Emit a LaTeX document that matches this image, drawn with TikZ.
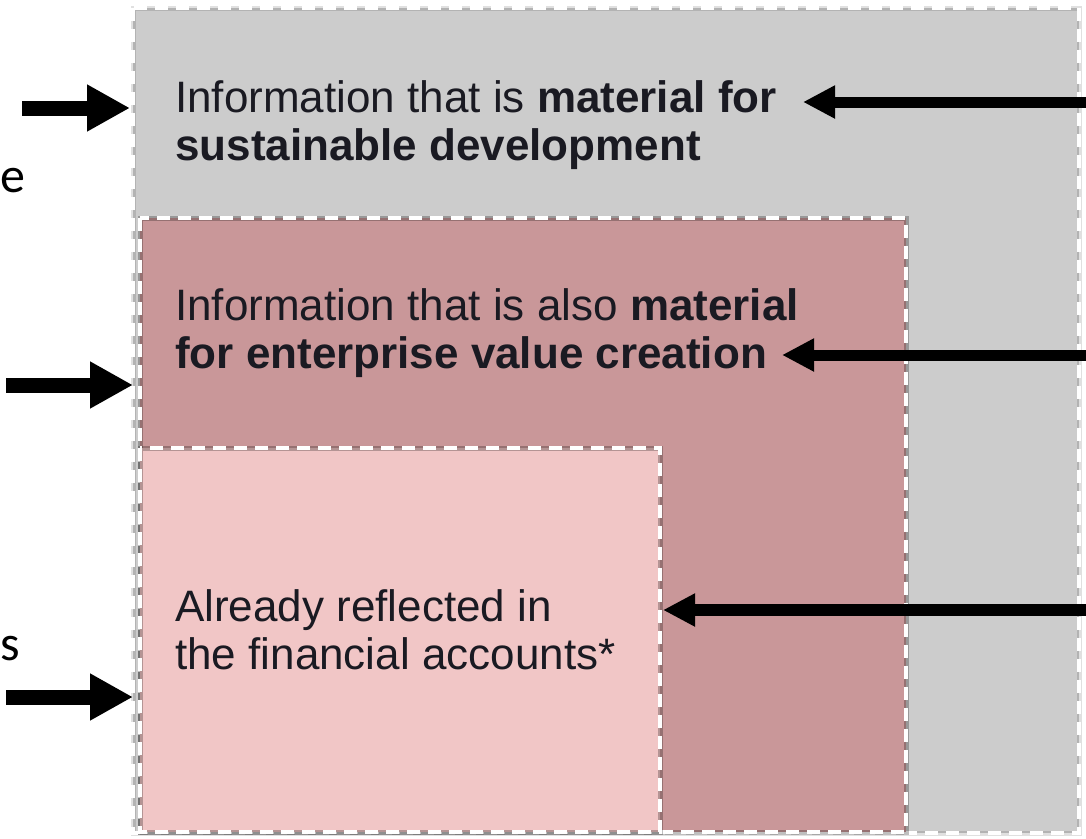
\documentclass[tikz,border=0pt]{standalone}
\usepackage{fontspec}
\setmainfont{Liberation Sans}
\newfontfamily\calib{Carlito}
\usetikzlibrary{arrows.meta}
\definecolor{boxgray}{HTML}{CCCCCC}
\definecolor{darkpink}{HTML}{C99799}
\definecolor{lightpink}{HTML}{F1C6C6}
\definecolor{txt}{HTML}{1A1A22}
\tikzset{
  region/.style={rectangle, inner sep=0pt, outer sep=0pt, anchor=north west},
  edgeshade/.style={draw=black, draw opacity=0.25, line width=5pt},
  edgedash/.style={draw=white, line width=4pt, dash pattern=on 13pt off 8pt},
  boxtext/.style={anchor=north west, inner sep=0pt, align=left, text=txt,
    font=\fontsize{44}{48}\selectfont},
  cuttext/.style={anchor=base west, inner sep=0pt, text=black,
    font=\calib\fontsize{50}{50}\selectfont},
  bigarrow/.style={-{Triangle[length=43pt,width=44pt]}, line width=15pt, black},
  thinarrow/.style={-{Triangle[length=32pt,width=31pt]}, line width=11pt, black},
}
\begin{document}
\begin{tikzpicture}[x=1pt,y=-1pt]
\useasboundingbox[fill=white] (0,0) rectangle (1086,838);

% regions
\node[region, fill=boxgray, minimum width=946pt, minimum height=825pt] (gray) at (133,8) {};
\draw[edgeshade, draw opacity=0.12] (gray.north west) rectangle (gray.south east);
\draw[edgedash] (gray.north west) rectangle (gray.south east);

\node[region, fill=darkpink, minimum width=766pt, minimum height=614pt] (dark) at (140,218) {};
\draw[edgeshade] (dark.north west) rectangle (dark.south east);
\draw[edgedash] (dark.north west) rectangle (dark.south east);

\node[region, fill=lightpink, minimum width=520pt, minimum height=384pt] (light) at (140,448) {};
\draw[edgeshade] (light.north west) rectangle (light.south east);
\draw[edgedash] (light.north west) rectangle (light.south east);

% texts
\node[boxtext] (t1) at (175,80) {Information that is \textbf{material for}\\\textbf{sustainable development}};
\node[boxtext] (t2) at (175,288) {Information that is also \textbf{material}\\\textbf{for enterprise value creation}};
\node[boxtext] (t3) at (175,589) {Already reflected in\\the financial accounts*};

% texts at the left edge
\node[cuttext] (ce) at (0.5,192) {e};
\node[cuttext] (cs) at (0.5,660) {s};

% left arrows
\coordinate (l1s) at (22,108);  \coordinate (l1e) at (130,108);
\coordinate (l2s) at (6,385);   \coordinate (l2e) at (133,385);
\coordinate (l3s) at (6,697);   \coordinate (l3e) at (133,697);
\draw[bigarrow] (l1s) -- (l1e);
\draw[bigarrow] (l2s) -- (l2e);
\draw[bigarrow] (l3s) -- (l3e);

% right arrows
\coordinate (r1s) at (1090,102); \coordinate (r1e) at (803,102);
\coordinate (r2s) at (1090,355); \coordinate (r2e) at (782,355);
\coordinate (r3s) at (1090,610); \coordinate (r3e) at (663,610);
\draw[thinarrow] (r1s) -- (r1e);
\draw[thinarrow] (r2s) -- (r2e);
\draw[thinarrow, line width=12pt] (r3s) -- (r3e);
\end{tikzpicture}
\end{document}
